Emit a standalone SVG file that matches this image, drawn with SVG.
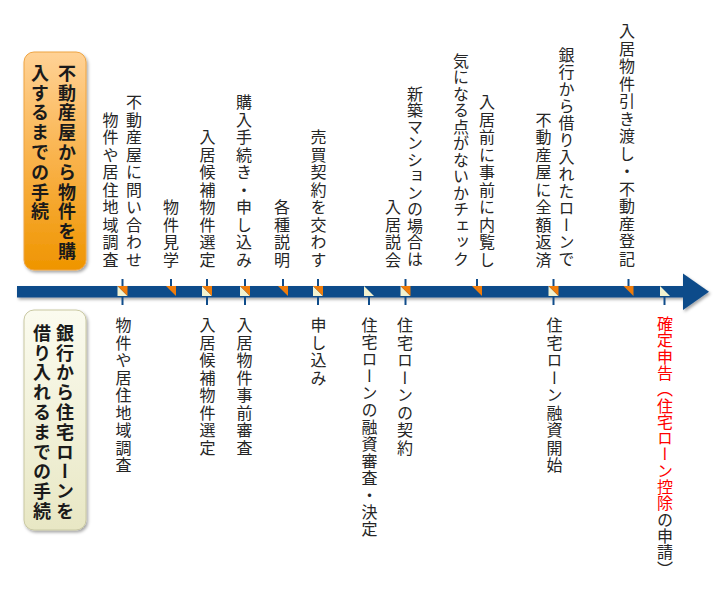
<svg xmlns="http://www.w3.org/2000/svg" width="715" height="593" viewBox="0 0 715 593">
<defs>
<linearGradient id="gOrange" x1="0" y1="0" x2="0" y2="1">
<stop offset="0" stop-color="#ffd296"/>
<stop offset="0.5" stop-color="#f9b24a"/>
<stop offset="1" stop-color="#ef9500"/>
</linearGradient>
<linearGradient id="gCream" x1="0" y1="0" x2="0" y2="1">
<stop offset="0" stop-color="#fbfbef"/>
<stop offset="1" stop-color="#e8e7c4"/>
</linearGradient>
<filter id="shadow" x="-20%" y="-20%" width="140%" height="140%">
<feDropShadow dx="1.5" dy="2" stdDeviation="1.5" flood-color="#000" flood-opacity="0.35"/>
</filter>
</defs>
<style>
.v{writing-mode:vertical-rl;font-family:"Noto Sans CJK JP","Noto Sans CJK SC",sans-serif;font-size:16px;letter-spacing:1.5px;fill:#262626}
.top{text-anchor:end}
.bot{text-anchor:start}
.tight{letter-spacing:0.5px}
.mid{letter-spacing:1px}
.box{writing-mode:vertical-rl;font-family:"Noto Sans CJK JP","Noto Sans CJK SC",sans-serif;font-size:18px;font-weight:bold;letter-spacing:1.8px;fill:#1a1a1a;text-anchor:start}
.red{fill:#ff0000}
.tick{stroke:#104c8a;stroke-width:2}
.or{fill:#f07c0a}
.lt{fill:#f3f2cf}
</style>

<g id="box-buy">
<rect x="24" y="52" width="62" height="218" rx="10" ry="10" fill="url(#gOrange)" stroke="#eea443" stroke-width="1" filter="url(#shadow)"/>
<text class="box" x="67" y="64">不動産屋から物件を購</text>
<text class="box" x="40" y="64">入するまでの手続</text>
</g>

<g id="box-loan">
<rect x="24" y="310" width="62" height="220" rx="10" ry="10" fill="url(#gCream)" stroke="#c9c8a2" stroke-width="1" filter="url(#shadow)"/>
<text class="box" x="65" y="324">銀行から住宅ローンを</text>
<text class="box" x="42" y="324">借り入れるまでの手続</text>
</g>

<g id="connectors">
<g id="timeline" filter="url(#shadow)">
<rect x="17" y="286" width="667" height="11.5" fill="#104c8a"/>
<polygon points="683,273.5 709,291.7 683,310" fill="#104c8a"/>
</g>
<g id="ticks">
<line class="tick" x1="122.5" y1="279" x2="122.5" y2="305"/>
<line class="tick" x1="171" y1="279" x2="171" y2="288"/>
<line class="tick" x1="207" y1="279" x2="207" y2="305"/>
<line class="tick" x1="245" y1="279" x2="245" y2="305"/>
<line class="tick" x1="283" y1="279" x2="283" y2="288"/>
<line class="tick" x1="318" y1="279" x2="318" y2="305"/>
<line class="tick" x1="369" y1="295" x2="369" y2="305"/>
<line class="tick" x1="405.5" y1="279" x2="405.5" y2="305"/>
<line class="tick" x1="477" y1="279" x2="477" y2="288"/>
<line class="tick" x1="553.5" y1="279" x2="553.5" y2="305"/>
<line class="tick" x1="628.5" y1="279" x2="628.5" y2="288"/>
<line class="tick" x1="664.5" y1="295" x2="664.5" y2="305"/>
</g>
<g id="markers">
<polygon class="lt" points="117.5,286 117.5,296 127.5,296"/><polygon class="or" points="117.5,286 127.5,286 127.5,296"/>
<polygon class="or" points="166,286 176,286 176,296"/>
<polygon class="lt" points="202,286 202,296 212,296"/><polygon class="or" points="202,286 212,286 212,296"/>
<polygon class="lt" points="240,286 240,296 250,296"/><polygon class="or" points="240,286 250,286 250,296"/>
<polygon class="or" points="278,286 288,286 288,296"/>
<polygon class="lt" points="313,286 313,296 323,296"/><polygon class="or" points="313,286 323,286 323,296"/>
<polygon class="lt" points="364,286 364,296 374,296"/>
<polygon class="lt" points="400.5,286 400.5,296 410.5,296"/><polygon class="or" points="400.5,286 410.5,286 410.5,296"/>
<polygon class="or" points="472,286 482,286 482,296"/>
<polygon class="lt" points="548.5,286 548.5,296 558.5,296"/><polygon class="or" points="548.5,286 558.5,286 558.5,296"/>
<polygon class="or" points="623.5,286 633.5,286 633.5,296"/>
<polygon class="lt" points="660,286 660,296 670,296"/>
</g>
</g>

<g id="top-labels">
<g id="t1"><text class="v top" x="134" y="269">不動産屋に問い合わせ</text><text class="v top" x="110.5" y="269">物件や居住地域調査</text></g>
<g id="t2"><text class="v top" x="171" y="269">物件見学</text></g>
<g id="t3"><text class="v top" x="207.5" y="269">入居候補物件選定</text></g>
<g id="t4"><text class="v top" x="244" y="269">購入手続き・申し込み</text></g>
<g id="t5"><text class="v top" x="282" y="269">各種説明</text></g>
<g id="t6"><text class="v top" x="318.5" y="269">売買契約を交わす</text></g>
<g id="t7"><text class="v top tight" x="415" y="267">新築マンションの場合は</text><text class="v top" x="393" y="269">入居説会</text></g>
<g id="t8"><text class="v top" x="487" y="269">入居前に事前に内覧し</text><text class="v top tight" x="461" y="267">気になる点がないかチェック</text></g>
<g id="t9"><text class="v top mid" x="566.5" y="268">銀行から借り入れたローンで</text><text class="v top" x="543.5" y="269">不動産屋に全額返済</text></g>
<g id="t10"><text class="v top" x="627" y="268">入居物件引き渡し・不動産登記</text></g>
</g>

<g id="bottom-labels">
<g id="b1"><text class="v bot" x="123.5" y="317">物件や居住地域調査</text></g>
<g id="b2"><text class="v bot" x="207.5" y="317">入居候補物件選定</text></g>
<g id="b3"><text class="v bot" x="244.5" y="317">入居物件事前審査</text></g>
<g id="b4"><text class="v bot" x="318.5" y="317">申し込み</text></g>
<g id="b5"><text class="v bot mid" x="369.5" y="317">住宅ローンの融資審査・決定</text></g>
<g id="b6"><text class="v bot" x="405" y="317">住宅ローンの契約</text></g>
<g id="b7"><text class="v bot" x="554.5" y="317">住宅ローン融資開始</text></g>
<g id="b8"><text class="v bot" x="665" y="316" style="letter-spacing:0.3px"><tspan class="red">確定申告（住宅ローン控除</tspan>の申請）</text></g>
</g>
</svg>
